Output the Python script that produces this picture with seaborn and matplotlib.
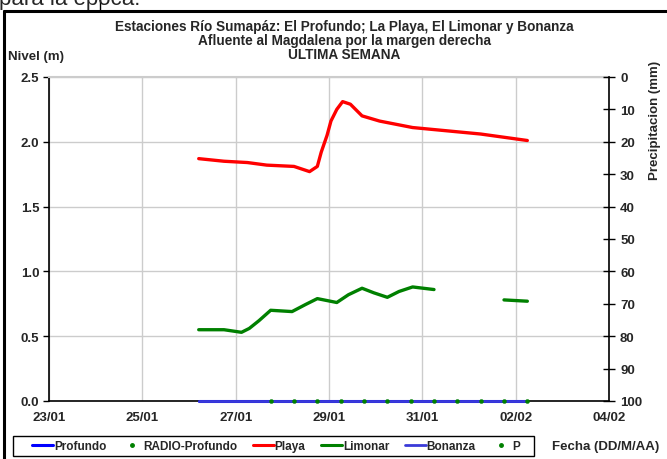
import pandas as pd
import numpy as np
import matplotlib
matplotlib.use("Agg")
import matplotlib.pyplot as plt
import matplotlib.dates as mdates
from matplotlib.lines import Line2D
from matplotlib.patches import Rectangle
import seaborn as sns

# Playa (m)
playa_time = ["2025-01-26 05:00", "2025-01-26 18:00", "2025-01-27 06:00", "2025-01-27 16:00",
              "2025-01-28 06:00", "2025-01-28 10:00", "2025-01-28 14:00", "2025-01-28 18:00",
              "2025-01-28 20:00", "2025-01-28 23:00", "2025-01-29 01:00", "2025-01-29 04:00",
              "2025-01-29 07:00", "2025-01-29 11:00", "2025-01-29 17:00", "2025-01-30 02:00",
              "2025-01-30 19:00", "2025-01-31 09:00", "2025-02-01 06:00", "2025-02-02 06:00"]
playa_nivel = [1.87, 1.85, 1.84, 1.82, 1.81, 1.79, 1.77, 1.81, 1.92, 2.05, 2.16, 2.25,
               2.31, 2.29, 2.20, 2.16, 2.11, 2.09, 2.06, 2.01]

# Limonar (m), two stretches with a gap
limonar_time_a = ["2025-01-26 05:00", "2025-01-26 18:00", "2025-01-27 03:00", "2025-01-27 07:00",
                  "2025-01-27 12:00", "2025-01-27 18:00", "2025-01-28 05:00", "2025-01-28 12:00",
                  "2025-01-28 18:00", "2025-01-29 04:00", "2025-01-29 10:00", "2025-01-29 17:00",
                  "2025-01-29 23:00", "2025-01-30 06:00", "2025-01-30 12:00", "2025-01-30 19:00",
                  "2025-01-31 06:00"]
limonar_nivel_a = [0.55, 0.55, 0.53, 0.56, 0.62, 0.70, 0.69, 0.745, 0.79, 0.76, 0.82, 0.87,
                   0.835, 0.80, 0.845, 0.88, 0.86]
limonar_time_b = ["2025-02-01 18:00", "2025-02-02 06:00"]
limonar_nivel_b = [0.78, 0.77]

# Profundo / Bonanza (m)
profundo_nivel = [0.0] * len(playa_time)
bonanza_nivel = [0.0] * len(playa_time)

# RADIO-Profundo (m), 12-hourly
radio_time = ["2025-01-27 18:00", "2025-01-28 06:00", "2025-01-28 18:00", "2025-01-29 06:00",
              "2025-01-29 18:00", "2025-01-30 06:00", "2025-01-30 18:00", "2025-01-31 06:00",
              "2025-01-31 18:00", "2025-02-01 06:00", "2025-02-01 18:00", "2025-02-02 06:00"]
radio_nivel = [0.0] * len(radio_time)

x_ticks = pd.date_range("2025-01-23", "2025-02-04", freq="2D")

BLUE = "#0000FF"
SLATE = "#3a3ad8"
RED = "#FF0000"
GREEN = "#008000"

sns.set_style("white")
plt.rcParams['font.family'] = ['Liberation Sans', 'DejaVu Sans']
plt.rcParams['font.weight'] = 'bold'

fig = plt.figure(figsize=(6.67, 4.60), dpi=100)
ax = fig.add_axes([49 / 667, 1 - 402 / 460, 560 / 667, 324 / 460])

pt = pd.to_datetime(playa_time)
sns.lineplot(x=pt, y=profundo_nivel, ax=ax, color=BLUE, lw=2.2, zorder=3)
ax.lines[-1].set_clip_on(False)
sns.lineplot(x=pd.to_datetime(limonar_time_a), y=limonar_nivel_a, ax=ax, color=GREEN, lw=2.4, zorder=4)
sns.lineplot(x=pd.to_datetime(limonar_time_b), y=limonar_nivel_b, ax=ax, color=GREEN, lw=2.4, zorder=4)
sns.lineplot(x=pt, y=playa_nivel, ax=ax, color=RED, lw=2.4, zorder=4)
sns.lineplot(x=pt, y=bonanza_nivel, ax=ax, color=SLATE, lw=2.0, zorder=3)
ax.lines[-1].set_clip_on(False)
sns.scatterplot(x=pd.to_datetime(radio_time), y=radio_nivel, ax=ax, color=GREEN, s=9,
                edgecolor=GREEN, zorder=5)
ax.collections[-1].set_clip_on(False)

ax.set_xlim(pd.Timestamp("2025-01-23"), pd.Timestamp("2025-02-04"))
ax.set_ylim(0, 2.5)
ax.set_xticks(x_ticks)
ax.xaxis.set_major_formatter(mdates.DateFormatter("%d/%m"))
ax.set_yticks(np.arange(0, 2.51, 0.5))
ax.yaxis.set_major_formatter(matplotlib.ticker.FormatStrFormatter("%.1f"))
ax.grid(True, color="#cccccc", lw=1)
ax.set_xlabel("")
ax.set_ylabel("")
for side in ["left", "bottom"]:
    ax.spines[side].set_color("black")
    ax.spines[side].set_linewidth(1.2)
ax.spines["top"].set_color("#cccccc")
ax.spines["top"].set_linewidth(1.5)
ax.spines["right"].set_visible(False)
ax.tick_params(axis="y", direction="out", length=4, width=1, color="black", labelsize=9.5, pad=3)
ax.tick_params(axis="x", direction="out", length=4, width=1, color="#bbbbbb", labelsize=9.5, pad=3)

ax2 = ax.twinx()
ax2.set_ylim(100, 0)
ax2.set_yticks(np.arange(0, 101, 10))
ax2.grid(False)
for side in ["left", "top", "bottom"]:
    ax2.spines[side].set_visible(False)
ax2.spines["right"].set_color("black")
ax2.spines["right"].set_linewidth(1.2)
ax2.tick_params(axis="y", direction="inout", length=8, width=1, color="black", labelsize=9.5, pad=4)

for lbl in ax.get_xticklabels() + ax.get_yticklabels() + ax2.get_yticklabels():
    lbl.set_fontweight("bold")

titles = ["Estaciones Río Sumapáz: El Profundo; La Playa, El Limonar y Bonanza",
          "Afluente al Magdalena por la margen derecha",
          "ULTIMA SEMANA"]
for i, t in enumerate(titles):
    fig.text(344 / 667, 1 - (27 + 14 * i) / 460, t, ha="center", va="center",
             fontsize=9.8, fontweight="bold")

fig.text(8 / 667, 1 - 57 / 460, "Nivel (m)", ha="left", va="center", fontsize=9.5, fontweight="bold")
fig.text(655 / 667, 1 - 61 / 460, "Precipitacion (mm)", ha="center", va="top", rotation=90,
         fontsize=9.5, fontweight="bold")
fig.text(552 / 667, 1 - 447 / 460, "Fecha (DD/M/AA)", ha="left", va="center", fontsize=9.5,
         fontweight="bold")

# page text cut above the frame
fig.text(-1 / 667, 1 - 5 / 460, "para la época.", ha="left", va="baseline", fontsize=16,
         fontweight="normal")

handles = [
    Line2D([], [], color=BLUE, lw=2.2),
    Line2D([], [], ls="none", marker="o", ms=2.5, color=GREEN),
    Line2D([], [], color=RED, lw=2.2),
    Line2D([], [], color=GREEN, lw=2.2),
    Line2D([], [], color=SLATE, lw=2.0),
    Line2D([], [], ls="none", marker="o", ms=2.5, color=GREEN),
]
labels = ["Profundo", "RADIO-Profundo", "Playa", "Limonar", "Bonanza", "P"]
fig.legend(handles, labels, loc="center left", bbox_to_anchor=(32 / 667, 1 - 447 / 460), ncol=6,
           frameon=False, handlelength=1.8, handletextpad=0.05, columnspacing=1.3,
           borderpad=0, borderaxespad=0, prop={"weight": "bold", "size": 8.5})
fig.add_artist(Rectangle((13 / 667, 1 - 457 / 460), 521 / 667, 20 / 460, fill=False,
                         edgecolor="black", lw=1.0, transform=fig.transFigure))

# frame around the chart
fig.add_artist(Line2D([4 / 667, 1], [1 - 12 / 460] * 2, color="black", lw=2.2,
                      transform=fig.transFigure))
fig.add_artist(Line2D([4 / 667] * 2, [0, 1 - 12 / 460], color="black", lw=2.2,
                      transform=fig.transFigure))
fig.add_artist(Line2D([100 / 667] * 2, [1, 1 - 12 / 460], color="black", lw=1,
                      transform=fig.transFigure))

fig.savefig("out.png", dpi=100)
